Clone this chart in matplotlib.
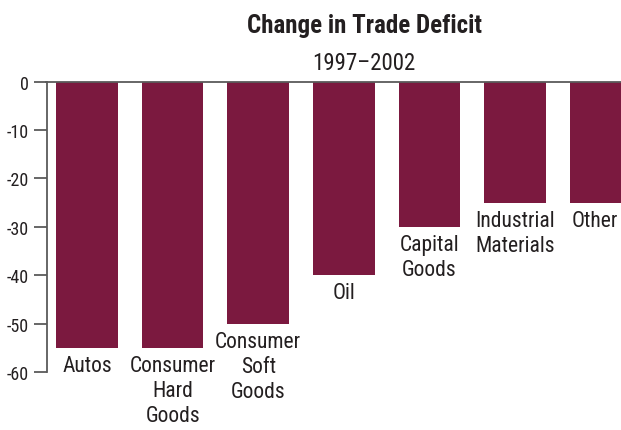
import matplotlib
matplotlib.use("Agg")
import matplotlib.pyplot as plt
from matplotlib import font_manager as fm

categories = ["Autos", "Consumer\nHard\nGoods", "Consumer\nSoft\nGoods", "Oil",
              "Capital\nGoods", "Industrial\nMaterials", "Other"]
values = [-55, -55, -50, -40, -30, -25, -25]
yticks = [0, -10, -20, -30, -40, -50, -60]
title = "Change in Trade Deficit"
subtitle = "1997\u20132002"

# pick a condensed font if available
names = {f.name for f in fm.fontManager.ttflist}
stretch = "normal"
family = "DejaVu Sans"
for cand in ["Roboto Condensed", "Liberation Sans Narrow", "Open Sans Condensed", "Noto Sans Condensed"]:
    if cand in names:
        family = cand
        break
else:
    if any(f.name == "DejaVu Sans" and f.stretch in ("condensed", 'semi-condensed') for f in fm.fontManager.ttflist):
        family = "DejaVu Sans"
        stretch = "condensed"
    elif "Roboto" in names:
        family = "Roboto"

plt.rcParams['font.family'] = [family, 'DejaVu Sans']
plt.rcParams['font.stretch'] = stretch

BAR = "#7B193F"
TXT = "#231F20"
AX = "#5A5A5A"

W, H = 621, 431
fig = plt.figure(figsize=(W / 100, H / 100), dpi=100)
left_px, right_px, top_px, bot_px = 46.5, 621, 82.7, 373
ax = fig.add_axes([left_px / W, 1 - bot_px / H, (right_px - left_px) / W, (bot_px - top_px) / H])

x = list(range(len(categories)))
ax.bar(x, values, width=0.72, color=BAR, zorder=2)
ax.set_xlim(-0.473, 6.238)
ax.set_ylim(-60, 0)

for s in ["right", "bottom"]:
    ax.spines[s].set_visible(False)
ax.spines["left"].set_color(AX)
ax.spines["left"].set_linewidth(1.3)
ax.spines["top"].set_color(AX)
ax.spines["top"].set_linewidth(1.3)
ax.spines["top"].set_zorder(3)

ax.set_xticks([])
ax.set_yticks(yticks)
ax.set_yticklabels([str(v) for v in yticks])
ax.tick_params(axis="y", length=9.5, width=1.3, color=AX, pad=3, labelsize=13, labelcolor=TXT)

n = len(categories)
for i, (xi, v, lab) in enumerate(zip(x, values, categories)):
    dx = -4 if i == n - 1 else 0
    ax.annotate(lab, (xi, v), xytext=(dx, -5), textcoords="offset points",
                ha="center", va="top", fontsize=15.5, color=TXT, linespacing=1.25,
                annotation_clip=False)

fig.text(364 / W, 1 - 14 / H, title, ha="center", va="top", fontsize=18,
         fontweight="bold", color=TXT)
fig.text(364 / W, 1 - 52 / H, subtitle, ha="center", va="top", fontsize=16.5, color=TXT)

fig.savefig("out.png", dpi=100)
